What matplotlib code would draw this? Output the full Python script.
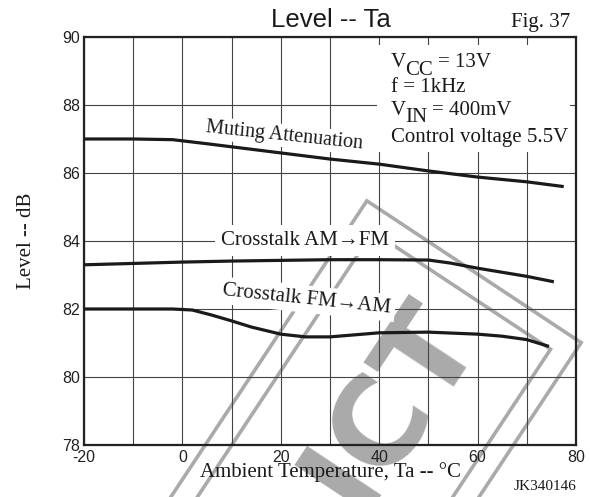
import matplotlib.pyplot as plt
from matplotlib.patches import Rectangle
from matplotlib.transforms import IdentityTransform

# level vs. ambient temperature, read per curve
ta_mute = [-20, -10, -2, 5, 10, 20, 30, 40, 50, 60, 70, 77.5]
lvl_mute = [87.0, 87.0, 86.98, 86.86, 86.77, 86.59, 86.41, 86.26, 86.06, 85.88, 85.74, 85.6]

ta_am_fm = [-20, -10, 0, 10, 20, 30, 40, 50, 54.5, 60, 65, 70, 75.5]
lvl_am_fm = [83.3, 83.34, 83.38, 83.41, 83.43, 83.45, 83.45, 83.44, 83.35, 83.2, 83.08, 82.96, 82.8]

ta_fm_am = [-20, -10, -2, 2, 6, 10, 14, 20, 25, 30, 35, 40, 50, 60, 65, 70, 74.5]
lvl_fm_am = [82.0, 82.0, 82.0, 81.97, 81.82, 81.65, 81.47, 81.26, 81.18, 81.18, 81.24, 81.3,
             81.32, 81.26, 81.2, 81.1, 80.9]

x_major = [-20, 0, 20, 40, 60, 80]
y_major = [78, 80, 82, 84, 86, 88, 90]

SERIF = 'Liberation Serif'
SANS = 'Liberation Sans'
INK = '#1a1a1a'
GREY = '#aaaaaa'

plt.rcParams['axes.unicode_minus'] = False

fig = plt.figure(figsize=(5.9, 4.97), dpi=100)
ax = fig.add_axes([0.1424, 0.1046, 0.8339, 0.8210])
ax.set_facecolor('none')

ax.set_xlim(-20, 80)
ax.set_ylim(78, 90)
ax.set_xticks(x_major)
ax.set_xticks(range(-10, 80, 20), minor=True)
ax.set_yticks(y_major)
ax.grid(which='both', color='#444444', linewidth=0.8)
ax.tick_params(which='both', length=0)
ax.tick_params(axis='x', pad=3.5)
ax.tick_params(axis='y', pad=3)
for lab in ax.get_xticklabels() + ax.get_yticklabels():
    lab.set_fontfamily(SANS)
    lab.set_fontsize(11.5)
    lab.set_color('#222222')
for sp in ax.spines.values():
    sp.set_linewidth(1.6)
    sp.set_color('#222222')

# curves
for xs, ys in [(ta_mute, lvl_mute), (ta_am_fm, lvl_am_fm), (ta_fm_am, lvl_fm_am)]:
    ax.plot(xs, ys, color=INK, linewidth=2.3, solid_joinstyle='round',
            solid_capstyle='butt', zorder=4, clip_on=False)

# curve labels
ax.text(4.6, 87.21, 'Muting Attenuation', family=SERIF, fontsize=14.5, rotation=-6,
        rotation_mode='anchor', ha='left', va='baseline', color=INK, zorder=3,
        bbox=dict(facecolor='white', edgecolor='none', pad=1.5))
ax.text(24.9, 83.88, 'Crosstalk AM→FM', family=SERIF, fontsize=15, ha='center',
        va='baseline', color=INK, zorder=3,
        bbox=dict(facecolor='white', edgecolor='none', pad=4))
ax.text(25.3, 82.29, 'Crosstalk FM→AM', family=SERIF, fontsize=15, rotation=-6,
        ha='center', va='center', color=INK, zorder=3,
        bbox=dict(facecolor='white', edgecolor='none', pad=3))

# conditions block
ax.add_patch(Rectangle((39.6, 86.62), 39.2, 3.14, facecolor='white', edgecolor='none', zorder=2))
cond = dict(family=SERIF, fontsize=15, va='baseline', ha='left', color=INK, zorder=3)
ax.text(42.4, 89.12, 'V', **cond)
ax.text(45.3, 88.88, 'CC', **cond)
ax.text(51.9, 89.12, '= 13V', **cond)
ax.text(42.4, 88.38, 'f = 1kHz', **cond)
ax.text(42.4, 87.70, 'V', **cond)
ax.text(45.3, 87.50, 'IN', **cond)
ax.text(50.7, 87.70, '= 400mV', **cond)
ax.text(42.4, 86.90, 'Control voltage 5.5V', **cond)

ax.set_xlabel('Ambient Temperature, Ta -- °C', family=SERIF, fontsize=15, color=INK)
ax.xaxis.label.set_va('baseline')
ax.xaxis.set_label_coords(0.5, -32 / 408)
ax.set_ylabel('Level -- dB', family=SERIF, fontsize=15, color=INK)
ax.yaxis.label.set_va('center')
ax.yaxis.set_label_coords(-58 / 492, 0.5)

fig.text(331 / 590, 1 - 27 / 497, 'Level -- Ta', family=SANS, fontsize=18.5,
         ha='center', va='baseline', color=INK)
fig.text(570 / 590, 1 - 27 / 497, 'Fig. 37', family=SERIF, fontsize=15,
         ha='right', va='baseline', color=INK)
fig.text(576 / 590, 1 - 490 / 497, 'JK340146', family=SERIF, fontsize=11,
         ha='right', va='baseline', color=INK)

# background stamp, in output pixels
px = IdentityTransform()
fig.patches.append(Rectangle((250, -346), 600, 257, angle=56.5, fill=False,
                             edgecolor=GREY, linewidth=2.6, transform=px, zorder=-1))
fig.patches.append(Rectangle((219.4, -352.6), 600, 213, angle=56.5, fill=False,
                             edgecolor=GREY, linewidth=2.6, transform=px, zorder=-1))
fig.texts.append(plt.Text(418, 74, 'ICT', family='DejaVu Sans', fontweight='bold',
                          fontsize=88, rotation=56.5, rotation_mode='anchor',
                          ha='center', va='baseline', color=GREY, transform=px,
                          zorder=-1, figure=fig))

fig.savefig('out.png', dpi=100)
